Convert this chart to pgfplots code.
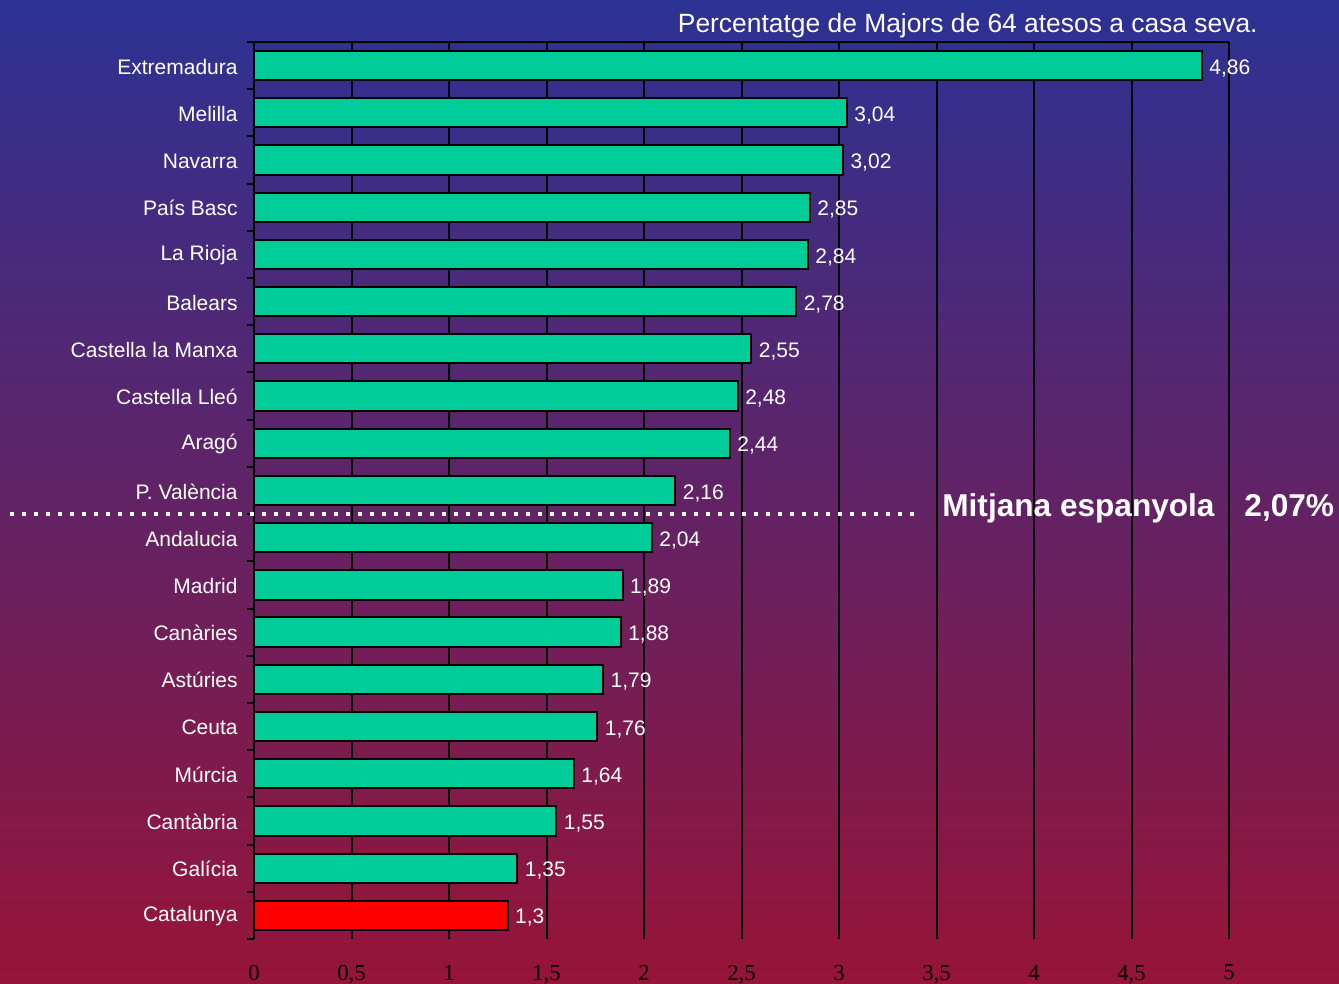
\documentclass[border=0pt]{standalone}
\usepackage{pgfplots}
\pgfplotsset{compat=1.18}
\usepackage{pgfplotstable}
\usepackage{fontspec}
\setmainfont{Liberation Sans}
\newfontfamily\serifnum{Liberation Serif}
\definecolor{barg}{RGB}{0,204,153}
\definecolor{bgtop}{RGB}{44,50,148}
\definecolor{bgmid}{RGB}{108,38,112}
\definecolor{bgbot}{RGB}{150,20,56}

% regions, top bar = 18
\pgfplotstableread{
y x lab
18 4.86 4,86
17 3.04 3,04
16 3.02 3,02
15 2.85 2,85
14 2.84 2,84
13 2.78 2,78
12 2.55 2,55
11 2.48 2,48
10 2.44 2,44
9 2.16 2,16
8 2.04 2,04
7 1.89 1,89
6 1.88 1,88
5 1.79 1,79
4 1.76 1,76
3 1.64 1,64
2 1.55 1,55
1 1.35 1,35
}\datagreen
\pgfplotstableread{
y x lab
0 1.3 1,3
}\datared

\begin{document}
\begin{tikzpicture}[x=0.5bp,y=0.5bp]
% picture pixels, origin at the axis' lower left corner
\shade[top color=bgtop, middle color=bgmid, bottom color=bgbot] (-254,-44) rectangle (1085,939);
\begin{axis}[
    at={(0,0)}, anchor=south west,
    scale only axis, width=487.5bp, height=448.5bp,
    xbar, bar width=0.62, bar shift=0pt,
    xmin=0, xmax=5, ymin=-0.5, ymax=18.5,
    xtick={0,0.5,1,1.5,2,2.5,3,3.5,4,4.5,5},
    xticklabels={0,{0,5},1,{1,5},2,{2,5},3,{3,5},4,{4,5},5},
    ytick={0,...,18},
    yticklabels={Catalunya,Galícia,Cantàbria,Múrcia,Ceuta,Astúries,Canàries,Madrid,Andalucia,P. València,Aragó,Castella Lleó,Castella la Manxa,Balears,La Rioja,País Basc,Navarra,Melilla,Extremadura},
    minor ytick={-0.5,0.5,...,18.5},
    major tick length=0pt, minor tick length=3.5bp,
    tick align=outside, ytick pos=left, xtick pos=bottom,
    tick style={black, line width=1bp},
    xmajorgrids, major grid style={black, line width=1bp},
    axis line style={draw=none},
    clip=false,
    xticklabel style={font=\serifnum\fontsize{11.4bp}{13bp}\selectfont, text=black, yshift=-9.5bp},
    yticklabel style={font=\fontsize{10.5bp}{12bp}\selectfont, text=white, inner sep=0pt, xshift=-8bp, yshift=-0.5bp},
    nodes near coords align={horizontal},
    nodes near coords style={font=\fontsize{10.5bp}{12bp}\selectfont, text=white, anchor=west, yshift=-1.3bp},
]
\addplot[fill=barg, draw=black, line width=1bp, bar shift=0pt,
    nodes near coords, point meta=explicit symbolic]
    table[x=x, y=y, meta=lab] {\datagreen};
\addplot[fill=red, draw=black, line width=1bp, bar shift=0pt,
    nodes near coords, point meta=explicit symbolic]
    table[x=x, y=y, meta=lab] {\datared};
\draw[black, line width=1bp] (axis cs:0,18.5) -- (axis cs:5,18.5);
\draw[black, line width=1bp] (axis cs:0,-0.5) -- (axis cs:0,18.5);
\draw[white, line width=2.2bp, dash pattern=on 2.2bp off 3.8bp] (axis cs:-1.253,8.5) -- (axis cs:3.39,8.5);
\node[anchor=base west, inner sep=0pt, text=white, font=\bfseries\fontsize{15.8bp}{18bp}\selectfont]
    at (axis cs:3.528,8.44) {Mitjana espanyola};
\node[anchor=base west, inner sep=0pt, text=white, font=\bfseries\fontsize{15.8bp}{18bp}\selectfont]
    at (axis cs:5.077,8.44) {2,07\%};
\end{axis}
\node[anchor=base east, inner sep=0pt, text=white, font=\fontsize{13.2bp}{15bp}\selectfont]
    at (1004,906) {Percentatge de Majors de 64 atesos a casa seva.};
\pgfresetboundingbox
\useasboundingbox (-254,-44) rectangle (1085,939);
\end{tikzpicture}
\end{document}
